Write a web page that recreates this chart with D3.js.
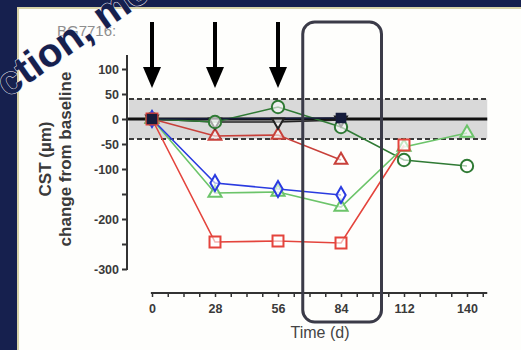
<!DOCTYPE html>
<html>
<head>
<meta charset="utf-8">
<script src="https://cdn.jsdelivr.net/npm/d3@7"></script>
<style>
  html, body { margin: 0; padding: 0; background: #16204e; }
  svg { display: block; }
  text { font-family: "Liberation Sans", Arial, sans-serif; }
</style>
</head>
<body>
<svg></svg>
<script>
	var width = 521,
		height = 350;

	// data
	var days = [0, 28, 56, 84, 112, 140];
	var redSquares     = [0, -246, -244, -248, -52, null];
	var redTriangles   = [0, -34, -32, -82, null, null];
	var blueDiamonds   = [0, -128, -140, -152, null, null];
	var greenTriangles = [0, -148, -146, -176, -56, -28];
	var greenCircles   = [0, -6, 24, -16, -82, -94];
	var blackTriangles = [0, -6, -6, -2, null, null];
	var darkSquares    = [0, null, null, 2, null, null];

	var yTicks = [100, 50, 0, -50, -100, -150, -200, -250, -300];
	var yLabels = [100, 50, 0, -50, -100, -200, -300];
	var xTicks = [0, 28, 56, 84, 112, 140];
	var arrowDays = [0, 28, 56];
	var bandLimit = 40;
	var boxDays = [67, 102];

	var series = [
		{ name: "redTriangles", values: redTriangles, color: "#c8403a", symbol: d3.symbolTriangle, size: 70, rot: 0 },
		{ name: "blackTriangles", values: blackTriangles, color: "#222", symbol: d3.symbolTriangle, size: 60, rot: 180 },
		{ name: "greenCircles", values: greenCircles, color: "#2f7a34", symbol: d3.symbolCircle, size: 120, rot: 0 },
		{ name: "greenTriangles", values: greenTriangles, color: "#6cc46a", symbol: d3.symbolTriangle, size: 75, rot: 0 },
		{ name: "blueDiamonds", values: blueDiamonds, color: "#2a3be0", symbol: d3.symbolDiamond, size: 75, rot: 0 },
		{ name: "redSquares", values: redSquares, color: "#e4443c", symbol: d3.symbolSquare, size: 120, rot: 0 },
		{ name: "darkSquares", values: darkSquares, color: "#161c3c", symbol: d3.symbolSquare, size: 75, rot: 0, filled: true }
	];

	var x = d3.scaleLinear().domain([0, 140]).range([152, 467]);
	var y = d3.scaleLinear().domain([-300, 100]).range([269, 69]);

	var svg = d3.select("svg")
		.attr("width", width)
		.attr("height", height);

	// navy frame and white panel
	svg.append("rect").attr("width", width).attr("height", height).attr("fill", "#16204e");
	svg.append("rect").attr("x", 17).attr("y", 7).attr("width", width - 17).attr("height", height - 7).attr("fill", "#d8d3a8");
	svg.append("rect").attr("x", 19).attr("y", 9).attr("width", width - 19).attr("height", height - 9).attr("fill", "#fefefc");

	svg.append("text")
		.attr("x", 57).attr("y", 36)
		.attr("fill", "#8e8e8e")
		.attr("font-size", 15)
		.text("BG7716:");

	// grey band
	var xEnd = x(149);
	svg.append("rect")
		.attr("x", 129).attr("y", y(bandLimit))
		.attr("width", xEnd - 129).attr("height", y(-bandLimit) - y(bandLimit))
		.attr("fill", "#d9d9d9");

	svg.selectAll(".bandLine").data([bandLimit, -bandLimit]).enter()
		.append("line")
		.attr("class", "bandLine")
		.attr("x1", 129).attr("x2", xEnd)
		.attr("y1", function(d) { return y(d); })
		.attr("y2", function(d) { return y(d); })
		.attr("stroke", "#3a3a3a")
		.attr("stroke-width", 2)
		.attr("stroke-dasharray", "5,3");

	svg.append("line")
		.attr("x1", 127).attr("x2", xEnd)
		.attr("y1", y(0)).attr("y2", y(0))
		.attr("stroke", "#111")
		.attr("stroke-width", 3);

	// y axis
	var yAxis = svg.append("g")
		.attr("transform", "translate(127,0)")
		.call(d3.axisLeft(y)
			.tickValues(yTicks)
			.tickSize(5)
			.tickPadding(3)
			.tickFormat(function(d) { return yLabels.indexOf(d) >= 0 ? String(d) : ""; }));
	yAxis.select(".domain").attr("d", "M0," + y(-302) + "V" + y(128)).attr("stroke", "#333").attr("stroke-width", 2);
	yAxis.selectAll(".tick line").attr("stroke", "#333").attr("stroke-width", 2);
	yAxis.selectAll(".tick text")
		.attr("fill", "#3a3a3a")
		.attr("font-size", 12.5)
		.attr("font-weight", "bold")
		.style("font-family", "'Liberation Sans', Arial, sans-serif");

	// x axis
	var xMinor = d3.range(0, 149, 7);
	var xAxis = svg.append("g")
		.attr("transform", "translate(0,293)")
		.call(d3.axisBottom(x)
			.tickValues(xMinor)
			.tickSize(4)
			.tickPadding(7)
			.tickFormat(function(d) { return xTicks.indexOf(d) >= 0 ? String(d) : ""; }));
	xAxis.select(".domain").attr("d", "M" + x(-0.5) + ",0H" + xEnd).attr("stroke", "#333").attr("stroke-width", 2);
	xAxis.selectAll(".tick line").attr("stroke", "#333").attr("stroke-width", 1.5)
		.attr("y1", -1);
	xAxis.selectAll(".tick text")
		.attr("fill", "#3a3a3a")
		.attr("font-size", 12.5)
		.attr("font-weight", "bold")
		.style("font-family", "'Liberation Sans', Arial, sans-serif");

	svg.append("text")
		.attr("x", 320).attr("y", 338)
		.attr("text-anchor", "middle")
		.attr("fill", "#444")
		.attr("font-size", 16)
		.text("Time (d)");

	var yTitle = svg.append("text")
		.attr("transform", "translate(51,159) rotate(-90)")
		.attr("text-anchor", "middle")
		.attr("fill", "#3a3a3a")
		.attr("font-size", 17)
		.attr("font-weight", "bold");
	yTitle.append("tspan").attr("x", 0).attr("dy", 0).text("CST (µm)");
	yTitle.append("tspan").attr("x", 0).attr("dy", 20).text("change from baseline");

	// series lines
	var line = d3.line()
		.x(function(d) { return x(d.day); })
		.y(function(d) { return y(d.v); });

	series.forEach(function(s) {
		var pts = days.map(function(day, i) { return { day: day, v: s.values[i] }; })
			.filter(function(p) { return p.v !== null; });
		svg.append("path")
			.datum(pts)
			.attr("d", line)
			.attr("fill", "none")
			.attr("stroke", s.color)
			.attr("stroke-width", 1.6);
	});

	series.forEach(function(s) {
		var pts = days.map(function(day, i) { return { day: day, v: s.values[i] }; })
			.filter(function(p) { return p.v !== null; });
		svg.selectAll(".m-" + s.name).data(pts).enter()
			.append("path")
			.attr("class", "m-" + s.name)
			.attr("d", d3.symbol().type(s.symbol).size(s.size))
			.attr("transform", function(d) { return "translate(" + x(d.day) + "," + y(d.v) + ") rotate(" + s.rot + ")"; })
			.attr("fill", s.filled ? s.color : "rgba(255,255,255,0.6)")
			.attr("stroke", s.color)
			.attr("stroke-width", 2);
	});

	// dosing arrows
	var arrows = svg.selectAll(".arrow").data(arrowDays).enter()
		.append("g")
		.attr("class", "arrow")
		.attr("transform", function(d) { return "translate(" + x(d) + ",0)"; });
	arrows.append("rect")
		.attr("x", -2).attr("y", 22).attr("width", 4).attr("height", 48)
		.attr("fill", "#000");
	arrows.append("path")
		.attr("d", "M-9,67L9,67L0,88Z")
		.attr("fill", "#000");

	// highlight box around day 84
	svg.append("rect")
		.attr("x", x(boxDays[0])).attr("y", 22)
		.attr("width", x(boxDays[1]) - x(boxDays[0])).attr("height", 300)
		.attr("rx", 12).attr("ry", 12)
		.attr("fill", "none")
		.attr("stroke", "#3b3b48")
		.attr("stroke-width", 3);

	// watermark
	svg.append("text")
		.attr("transform", "translate(8,98) rotate(-35)")
		.attr("fill", "#16204e")
		.attr("stroke", "#e8e8f0")
		.attr("stroke-width", 1)
		.attr("paint-order", "stroke")
		.attr("font-size", 40)
		.attr("font-weight", "bold")
		.text("ction, me");
</script>
</body>
</html>
